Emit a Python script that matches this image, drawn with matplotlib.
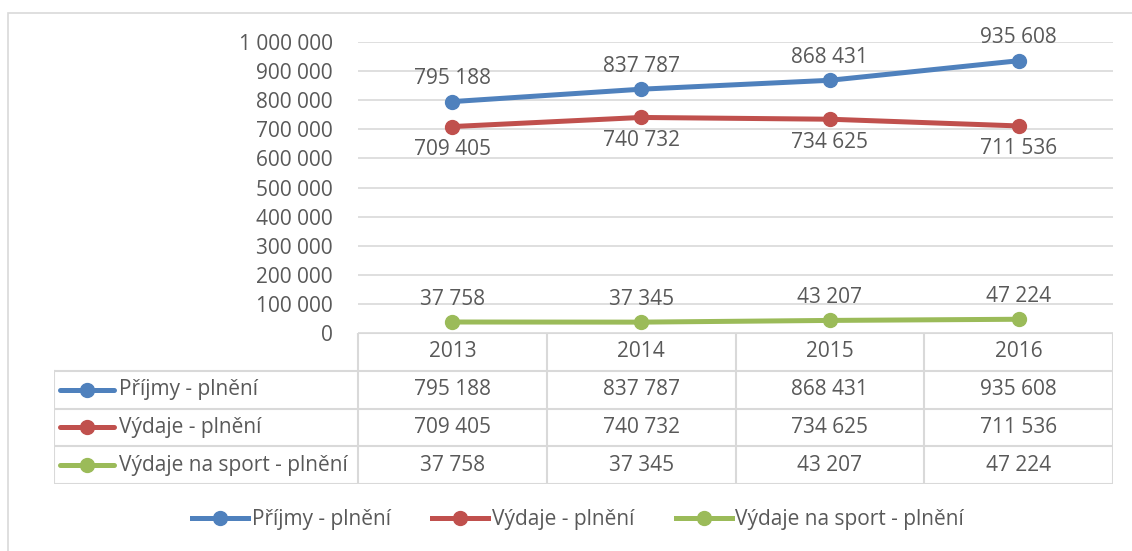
import matplotlib
matplotlib.use('Agg')
import matplotlib.pyplot as plt
from matplotlib.lines import Line2D
from matplotlib.patches import Rectangle

plt.rcParams.update({'font.family': 'Open Sans'})

years = ['2013', '2014', '2015', '2016']
series_names = ['Příjmy - plnění', 'Výdaje - plnění', 'Výdaje na sport - plnění']
prijmy = [795188, 837787, 868431, 935608]
vydaje = [709405, 740732, 734625, 711536]
sport = [37758, 37345, 43207, 47224]
colors = ['#4F81BD', '#C0504D', '#9BBB59']
label_side = [1, -1, 1]  # above / below the point

txtcol = '#595959'
gridcol = '#D9D9D9'
fs = 15
W, H = 1132, 551


def fmt(v):
    return '{:,}'.format(int(v)).replace(',', ' ')


def px(x0, y0, x1, y1):
    # pixel box -> figure fraction [left, bottom, width, height]
    return [x0 / W, 1 - y1 / H, (x1 - x0) / W, (y1 - y0) / H]


fig = plt.figure(figsize=(W / 100, H / 100), dpi=100)
fig.patch.set_facecolor('white')

# chart frame
fig.patches.append(Rectangle((8 / W, -0.1), 1.2, 1 - 13 / H + 0.1, transform=fig.transFigure,
                             fill=False, edgecolor=gridcol, linewidth=1.2))

# plot area
ax = fig.add_axes(px(358, 42, 1113, 333))
xs = range(len(years))
data = [prijmy, vydaje, sport]
for vals, col, side in zip(data, colors, label_side):
    ax.plot(xs, vals, color=col, linewidth=3.6, marker='o', markersize=10,
            solid_capstyle='round', zorder=3)
    for x, v in zip(xs, vals):
        ax.annotate(fmt(v), (x, v), textcoords='offset points',
                    xytext=(0, 16.5 * side), ha='center', va='center',
                    fontsize=fs, color=txtcol)

ax.set_xlim(-0.5, 3.5)
ax.set_ylim(0, 1000000)
ax.set_yticks(range(0, 1000001, 100000))
ax.set_yticklabels([fmt(t) for t in range(0, 1000001, 100000)])
ax.set_xticks([])
ax.tick_params(axis='y', length=0, pad=18, labelsize=fs, labelcolor=txtcol)
ax.grid(axis='y', color=gridcol, linewidth=1.2)
ax.set_axisbelow(True)
for s in ax.spines.values():
    s.set_visible(False)
ax.set_facecolor('none')

# data table below the plot area
lab_w = (358 - 54) / ((1113 - 358) / 4)
tb = fig.add_axes(px(54, 333, 1113, 484))
tb.set_xlim(-0.5 - lab_w, 3.5)
tb.set_ylim(4, 0)
tb.axis('off')
lc = dict(color=gridcol, linewidth=1.5)
tb.plot([-0.5, 3.5], [0, 0], **lc)
for r in [1, 2, 3, 4]:
    tb.plot([-0.5 - lab_w, 3.5], [r, r], **lc)
for c in [-0.5, 0.5, 1.5, 2.5, 3.5]:
    tb.plot([c, c], [0, 4], **lc)
tb.plot([-0.5 - lab_w, -0.5 - lab_w], [1, 4], **lc)
for i, y in enumerate(years):
    tb.text(i, 0.5, y, ha='center', va='center', fontsize=fs, color=txtcol)
for r, (name, vals, col) in enumerate(zip(series_names, data, colors), start=1):
    x0 = -0.5 - lab_w
    tb.plot([x0 + 0.033, x0 + 0.32], [r + 0.5, r + 0.5], color=col, linewidth=3.6,
            solid_capstyle='round')
    tb.plot([x0 + 0.176], [r + 0.5], 'o', color=col, markersize=10)
    tb.text(x0 + 0.345, r + 0.5, name, ha='left', va='center', fontsize=fs, color=txtcol)
    for i, v in enumerate(vals):
        tb.text(i, r + 0.5, fmt(v), ha='center', va='center', fontsize=fs, color=txtcol)

# legend
handles = [Line2D([], [], color=c, linewidth=3.6, marker='o', markersize=10) for c in colors]
fig.legend(handles, series_names, loc='center', bbox_to_anchor=(578 / W, 1 - 520 / H),
           ncol=3, frameon=False, fontsize=fs, handlelength=2.7, handletextpad=0.15,
           columnspacing=2.0, labelcolor=txtcol)

fig.savefig('out.png', dpi=100)
